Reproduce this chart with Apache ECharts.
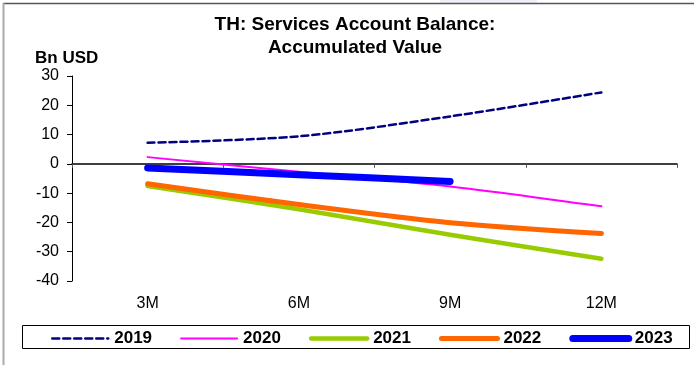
<!DOCTYPE html>
<html>
<head>
<meta charset="utf-8">
<script src="https://cdn.jsdelivr.net/npm/echarts@6/dist/echarts.min.js"></script>
<style>
  html, body { margin: 0; padding: 0; background: #fff; }
  #chart { width: 694px; height: 365px; }
</style>
</head>
<body>
<div id="chart"></div>
<script>
// Cumulative services account balance, billions of USD
const periods = ['3M', '6M', '9M', '12M'];
const y2019 = [7.2, 9.4, 16.2, 24.4];
const y2020 = [2.3, -2.7, -7.7, -14.5];
const y2021 = [-7.6, -15.5, -24.2, -32.4];
const y2022 = [-6.8, -13.9, -20.1, -23.8];
const y2023 = [-1.4, -3.7, -6.0];
const yTicks = { min: -40, max: 30, step: 10 };

const FONT = '"Liberation Sans", Arial, sans-serif';

// name, data, colour, line width, dash pattern
const styles = [
  ['2019', y2019, '#000080', 2.5, [7, 4]],
  ['2020', y2020, '#ff00ff', 2, 'solid'],
  ['2021', y2021, '#99cc00', 4.5, 'solid'],
  ['2022', y2022, '#ff6600', 5, 'solid'],
  ['2023', y2023, '#0000ff', 7, 'solid']
];

function lineSeries(s) {
  return {
    name: s[0],
    type: 'line',
    data: s[1],
    xAxisIndex: 0,
    symbol: 'none',
    smooth: 0.3,
    lineStyle: { color: s[2], width: s[3], type: s[4], cap: 'round', join: 'round' },
    itemStyle: { color: s[2] },
    emphasis: { disabled: true },
    animation: false
  };
}

const chart = echarts.init(document.getElementById('chart'), null, { renderer: 'canvas' });

chart.setOption({
  animation: false,
  backgroundColor: '#ffffff',
  textStyle: { fontFamily: FONT },
  title: {
    text: 'TH: Services Account Balance:\nAccumulated Value',
    left: 355,
    top: 13,
    textAlign: 'center',
    padding: 0,
    textStyle: { fontFamily: FONT, fontSize: 19, fontWeight: 'bold', color: '#000', lineHeight: 23 }
  },
  grid: { left: 72, right: 17, top: 76, bottom: 84, containLabel: false },
  xAxis: [
    {
      type: 'category',
      data: periods,
      boundaryGap: true,
      axisLine: { onZero: true, lineStyle: { color: '#000', width: 1.5 } },
      axisTick: { show: true, length: 4, inside: false, lineStyle: { color: '#555', width: 1 } },
      axisLabel: { show: false },
      splitLine: { show: false }
    },
    {
      type: 'category',
      data: periods,
      position: 'bottom',
      boundaryGap: true,
      axisLine: { show: false, onZero: false },
      axisTick: { show: false },
      axisLabel: { show: true, margin: 15, color: '#000', fontFamily: FONT, fontSize: 16 },
      splitLine: { show: false }
    }
  ],
  yAxis: {
    type: 'value',
    min: yTicks.min,
    max: yTicks.max,
    interval: yTicks.step,
    axisLine: { show: true, lineStyle: { color: '#000', width: 1 } },
    axisTick: { show: true, length: 5, lineStyle: { color: '#000' } },
    axisLabel: { margin: 13, color: '#000', fontFamily: FONT, fontSize: 16 },
    splitLine: { show: false }
  },
  legend: {
    left: 51,
    top: 330,
    itemWidth: 56,
    itemHeight: 14,
    itemGap: 28,
    padding: 0,
    selectedMode: false,
    itemStyle: { opacity: 0 },
    textStyle: { fontFamily: FONT, fontSize: 17, fontWeight: 'bold', color: '#000', padding: [0, 0, 0, 1] },
    data: styles.map(function (s) {
      return {
        name: s[0],
        itemStyle: { opacity: 0 },
        lineStyle: { color: s[2], width: s[3], type: s[4], cap: 'round' }
      };
    })
  },
  graphic: [
    { type: 'rect', shape: { x: 440, y: 0, width: 97, height: 3 }, style: { fill: '#eef0f8' }, silent: true },
    { type: 'line', shape: { x1: 3, y1: 3.5, x2: 694, y2: 3.5 }, style: { stroke: '#555', lineWidth: 1.5 }, silent: true },
    { type: 'line', shape: { x1: 3.5, y1: 3, x2: 3.5, y2: 365 }, style: { stroke: '#aaa', lineWidth: 2 }, silent: true },
    { type: 'rect', shape: { x: 22.5, y: 325.5, width: 667, height: 23 }, style: { fill: 'none', stroke: '#000', lineWidth: 1 }, silent: true },
    { type: 'text', left: 35, top: 50, style: { text: 'Bn USD', font: 'bold 17px ' + FONT, fill: '#000' }, silent: true }
  ],
  series: styles.map(lineSeries)
});
</script>
</body>
</html>
